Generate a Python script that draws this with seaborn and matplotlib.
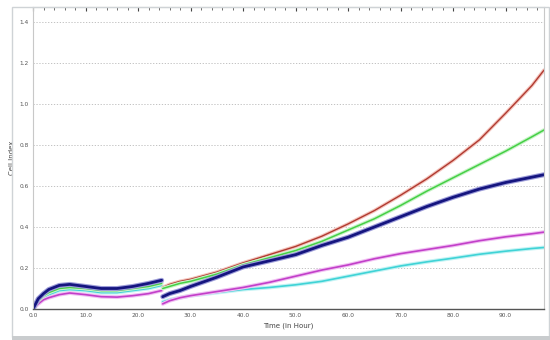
import numpy as np
import pandas as pd
import matplotlib
matplotlib.use("Agg")
import matplotlib.pyplot as plt
import matplotlib.patheffects as pe
from matplotlib.patches import Rectangle
from matplotlib.ticker import MultipleLocator
import seaborn as sns

# Time points (hours) before and after the medium change at ~24.6 h
t_pre = [0, 1, 2, 3, 5, 7, 10, 13, 16, 19, 22, 24.5]
t_post = [24.7, 26, 28, 30, 35, 40, 45, 50, 55, 60, 65, 70, 75, 80, 85, 90, 95, 97.3]

# Cell index per well
red_pre = [0, 0.045, 0.07, 0.085, 0.105, 0.11, 0.10, 0.095, 0.095, 0.105, 0.115, 0.13]
red_post = [0.105, 0.12, 0.135, 0.145, 0.18, 0.225, 0.265, 0.305, 0.355, 0.415, 0.48, 0.555,
            0.635, 0.725, 0.825, 0.955, 1.09, 1.165]
green_pre = [0, 0.04, 0.065, 0.08, 0.10, 0.105, 0.10, 0.09, 0.09, 0.10, 0.11, 0.125]
green_post = [0.10, 0.11, 0.125, 0.135, 0.17, 0.215, 0.25, 0.285, 0.33, 0.385, 0.44, 0.505,
              0.575, 0.64, 0.705, 0.77, 0.84, 0.873]
navy_pre = [0, 0.05, 0.075, 0.095, 0.115, 0.12, 0.11, 0.10, 0.10, 0.11, 0.125, 0.14]
navy_post = [0.06, 0.075, 0.09, 0.11, 0.155, 0.205, 0.235, 0.265, 0.31, 0.35, 0.40, 0.45,
             0.50, 0.545, 0.585, 0.617, 0.643, 0.655]
magenta_pre = [0, 0.025, 0.045, 0.055, 0.07, 0.078, 0.07, 0.06, 0.058, 0.065, 0.075, 0.09]
magenta_post = [0.025, 0.04, 0.055, 0.065, 0.085, 0.105, 0.13, 0.16, 0.19, 0.215, 0.245, 0.27,
                0.29, 0.31, 0.333, 0.352, 0.367, 0.375]
cyan_pre = [0, 0.035, 0.055, 0.07, 0.09, 0.095, 0.09, 0.08, 0.08, 0.09, 0.10, 0.115]
cyan_post = [0.035, 0.045, 0.055, 0.065, 0.08, 0.095, 0.105, 0.118, 0.135, 0.16, 0.185, 0.21,
             0.23, 0.248, 0.267, 0.282, 0.295, 0.30]

x_ticks = [0, 10, 20, 30, 40, 50, 60, 70, 80, 90]
x_tick_labels = ["0.0", "10.0", "20.0", "30.0", "40.0", "50.0", "60.0", "70.0", "80.0", "90.0"]
y_ticks = [0, 0.2, 0.4, 0.6, 0.8, 1.0, 1.2, 1.4]
y_tick_labels = ["0.0", "0.2", "0.4", "0.6", "0.8", "1.0", "1.2", "1.4"]

series = {
    "cyan": (cyan_pre, cyan_post),
    "magenta": (magenta_pre, magenta_post),
    "red": (red_pre, red_post),
    "green": (green_pre, green_post),
    "navy": (navy_pre, navy_post),
}
colors = {"cyan": "#3fd3d6", "magenta": "#c23fc9", "red": "#b03a30",
          "green": "#46cf46", "navy": "#15157f"}
halos = {"cyan": "#c4f3f4", "magenta": "#f1c2f3", "red": "#f4c4bd",
         "green": "#c8f4c8", "navy": "#9d9dd9"}
widths = {"cyan": 1.2, "magenta": 1.2, "red": 1.0, "green": 1.1, "navy": 2.0}

rows = []
for name, (pre, post) in series.items():
    for t, v in zip(t_pre, pre):
        rows.append((name, "pre", t, v))
    for t, v in zip(t_post, post):
        rows.append((name, "post", t, v))
df = pd.DataFrame(rows, columns=["well", "segment", "time", "ci"])

sns.set_style("white")
fig = plt.figure(figsize=(5.5, 3.4), dpi=100)
ax = fig.add_axes([33 / 550, 31 / 340, 511 / 550, 302 / 340])

for name in series:
    sub = df[df["well"] == name]
    sns.lineplot(data=sub, x="time", y="ci", units="segment", estimator=None,
                 color=colors[name], lw=widths[name], ax=ax, legend=False, sort=False,
                 path_effects=[pe.Stroke(linewidth=widths[name] + 1.6, foreground=halos[name]),
                               pe.Normal()])

ax.set_xlim(0, 97.3)
ax.set_ylim(0, 1.473)
ax.set_xticks(x_ticks)
ax.set_xticklabels(x_tick_labels)
ax.set_yticks(y_ticks)
ax.set_yticklabels(y_tick_labels)
ax.xaxis.set_minor_locator(MultipleLocator(2))
ax.yaxis.set_minor_locator(MultipleLocator(0.04))
ax.tick_params(axis="both", which="major", labelsize=4.2, labelcolor="#555555",
               length=3, width=0.8, color="#444444", direction="in", pad=3)
ax.tick_params(axis="both", which="minor", length=2, width=0.6, color="#555555",
               direction="in")
ax.tick_params(axis="x", which="both", top=True)
ax.grid(True, axis="y", linestyle=(0, (1.5, 2)), color="#b8b8b8", lw=0.6)
ax.set_axisbelow(True)

ax.set_xlabel("Time (in Hour)", fontsize=5, color="#444444", labelpad=3)
ax.set_ylabel("Cell Index", fontsize=5, color="#444444", labelpad=3)

ax.spines["bottom"].set_color("#555555")
ax.spines["bottom"].set_linewidth(1.0)
for s in ("left", "top", "right"):
    ax.spines[s].set_color("#c8c8c8")
    ax.spines[s].set_linewidth(0.8)

# outer panel frame
fig.patches.append(Rectangle((12 / 550, 3 / 340), 537 / 550, 330 / 340,
                             transform=fig.transFigure, fill=False,
                             edgecolor="#cfd3d6", lw=1.0, zorder=0))
fig.patches.append(Rectangle((12 / 550, 0), 538 / 550, 4 / 340,
                             transform=fig.transFigure, facecolor="#c9ccce",
                             edgecolor="none", zorder=0))

fig.savefig("out.png", dpi=100)
